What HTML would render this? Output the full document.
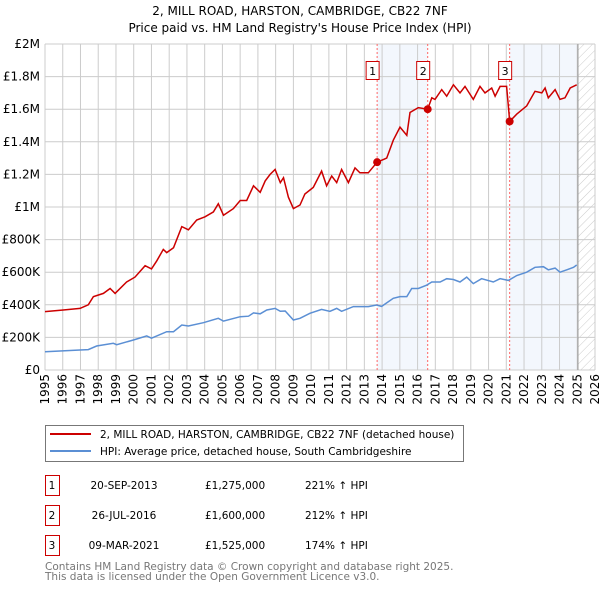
<!DOCTYPE html>
<html><head><meta charset="utf-8"><style>
body{margin:0;background:#fff;}
svg{display:block;font-family:"DejaVu Sans","Liberation Sans",sans-serif;}
</style></head><body>
<svg id="chart" width="600" height="590" viewBox="0 0 600 590">
<defs><pattern id="hatch" width="6" height="6" patternUnits="userSpaceOnUse" patternTransform="rotate(45)"><line x1="0" y1="0" x2="0" y2="6" stroke="#ccc" stroke-width="1"/></pattern></defs>
<text x="300" y="15" text-anchor="middle" font-size="12">2, MILL ROAD, HARSTON, CAMBRIDGE, CB22 7NF</text>
<text x="300" y="32" text-anchor="middle" font-size="12">Price paid vs. HM Land Registry's House Price Index (HPI)</text>
<g id="plot"></g>
<g>
<rect x="45.5" y="425.5" width="418" height="36" fill="#fff" stroke="#777"/>
<line x1="50" y1="434" x2="91" y2="434" stroke="#cc0000" stroke-width="2"/>
<text x="100" y="438" font-size="10.5">2, MILL ROAD, HARSTON, CAMBRIDGE, CB22 7NF (detached house)</text>
<line x1="50" y1="451" x2="91" y2="451" stroke="#5b8fd4" stroke-width="2"/>
<text x="100" y="455" font-size="10.5">HPI: Average price, detached house, South Cambridgeshire</text>
</g>
<g id="table" font-size="10.5"></g>
<text x="45" y="570" font-size="10.5" fill="#777">Contains HM Land Registry data © Crown copyright and database right 2025.</text>
<text x="45" y="580" font-size="10.5" fill="#777">This data is licensed under the Open Government Licence v3.0.</text>
</svg>
<script>
const redYears=[1995.0,1996.03,1996.97,1997.44,1997.73,1998.29,1998.67,1998.95,1999.6,2000.07,2000.64,2001.0,2001.3,2001.67,2001.86,2002.24,2002.71,2003.08,2003.55,2004.02,2004.49,2004.77,2005.06,2005.62,2006.0,2006.37,2006.75,2007.13,2007.41,2007.69,2007.97,2008.26,2008.44,2008.72,2009.0,2009.37,2009.65,2010.12,2010.59,2010.87,2011.16,2011.44,2011.72,2012.1,2012.47,2012.75,2013.22,2013.72,2014.26,2014.63,2015.01,2015.39,2015.57,2016.04,2016.57,2016.8,2016.98,2017.36,2017.64,2018.02,2018.39,2018.67,2019.14,2019.52,2019.8,2020.18,2020.37,2020.65,2021.02,2021.19,2021.59,2022.15,2022.62,2023.0,2023.19,2023.37,2023.75,2024.03,2024.31,2024.6,2024.97];
const redValues=[0.358,0.368,0.378,0.40,0.45,0.47,0.50,0.47,0.54,0.57,0.64,0.62,0.67,0.74,0.72,0.75,0.88,0.86,0.92,0.94,0.97,1.02,0.95,0.99,1.04,1.04,1.13,1.09,1.16,1.20,1.23,1.15,1.18,1.06,0.99,1.012,1.08,1.12,1.22,1.13,1.19,1.15,1.23,1.15,1.24,1.21,1.21,1.275,1.30,1.41,1.49,1.44,1.58,1.61,1.60,1.67,1.66,1.72,1.68,1.75,1.70,1.74,1.66,1.74,1.70,1.73,1.68,1.74,1.74,1.525,1.57,1.62,1.71,1.70,1.73,1.67,1.72,1.66,1.67,1.73,1.75];
const hpiYears=[1995,1996.97,1997.44,1997.91,1998.85,1999.04,1999.98,2000.73,2001.0,2001.86,2002.24,2002.71,2003.08,2003.93,2004.77,2005.06,2006.0,2006.47,2006.75,2007.13,2007.5,2007.97,2008.26,2008.54,2009.0,2009.37,2009.93,2010.59,2011.06,2011.44,2011.72,2012.38,2013.22,2013.69,2013.97,2014.63,2015.01,2015.39,2015.67,2016.04,2016.51,2016.8,2017.27,2017.64,2018.02,2018.39,2018.77,2019.14,2019.61,2020.27,2020.65,2021.12,2021.59,2022.15,2022.62,2023.09,2023.37,2023.75,2024.03,2024.41,2024.79,2024.97];
const hpiValues=[0.112,0.123,0.125,0.147,0.164,0.155,0.184,0.209,0.195,0.235,0.235,0.276,0.27,0.29,0.317,0.30,0.327,0.33,0.35,0.345,0.368,0.378,0.36,0.362,0.307,0.317,0.348,0.372,0.36,0.378,0.36,0.389,0.389,0.399,0.39,0.44,0.45,0.45,0.50,0.50,0.52,0.54,0.54,0.56,0.555,0.54,0.57,0.53,0.56,0.54,0.56,0.55,0.58,0.60,0.63,0.634,0.615,0.625,0.60,0.615,0.63,0.644];
const saleLabels=["1","2","3"];
const saleYears=[2013.72,2016.57,2021.19];
const saleValues=[1.275,1.60,1.525];
const saleDates=["20-SEP-2013","26-JUL-2016","09-MAR-2021"];
const salePrices=["£1,275,000","£1,600,000","£1,525,000"];
const salePcts=["221% ↑ HPI","212% ↑ HPI","174% ↑ HPI"];
const yTicks=[0,0.2,0.4,0.6,0.8,1,1.2,1.4,1.6,1.8,2];
const yTickLabels=["£0","£200K","£400K","£600K","£800K","£1M","£1.2M","£1.4M","£1.6M","£1.8M","£2M"];
const xTicks=[1995,1996,1997,1998,1999,2000,2001,2002,2003,2004,2005,2006,2007,2008,2009,2010,2011,2012,2013,2014,2015,2016,2017,2018,2019,2020,2021,2022,2023,2024,2025,2026];
const dataEnd=2025.04;

const NS="http://www.w3.org/2000/svg";
const X0=45,X1=595,Y0=370,Y1=44;
const xs=y=>X0+(y-1995)/(2026-1995)*(X1-X0);
const ys=v=>Y0-v/2*(Y0-Y1);
const plot=document.getElementById('plot');
function mk(tag,attrs,parent){const e=document.createElementNS(NS,tag);for(const k in attrs)e.setAttribute(k,attrs[k]);(parent||plot).appendChild(e);return e;}

let sh=mk('rect',{x:xs(saleYears[0]),y:Y1,width:xs(saleYears[1])-xs(saleYears[0]),height:Y0-Y1,fill:'#eef3fc',opacity:0.7});


sh=mk('rect',{x:xs(saleYears[2]),y:Y1,width:xs(dataEnd)-xs(saleYears[2]),height:Y0-Y1,fill:'#eef3fc',opacity:0.7});


let ht=mk('rect',{x:xs(dataEnd),y:Y1,width:X1-xs(dataEnd),height:Y0-Y1,fill:'url(#hatch)'});



yTicks.forEach((t,i)=>{
  const g=mk('line',{x1:X0,x2:X1,y1:ys(t),y2:ys(t),stroke:'#ccc','stroke-width':1});
  
  
  const l=mk('text',{x:40,y:ys(t)+4,'text-anchor':'end','font-size':12});
  l.textContent=yTickLabels[i];
  
  
});
xTicks.forEach(t=>{
  const g=mk('line',{x1:xs(t),x2:xs(t),y1:Y1,y2:Y0,stroke:'#ccc','stroke-width':1});
  
  
  const l=mk('text',{x:0,y:0,'text-anchor':'end','font-size':12,transform:`translate(${xs(t)+4},${Y0+4}) rotate(-90)`});
  l.textContent=t;
  
  
});
const vl=mk('line',{x1:xs(dataEnd),x2:xs(dataEnd),y1:Y1,y2:Y0,stroke:'#999','stroke-width':1});



saleYears.forEach((y,i)=>{
  const l=mk('line',{x1:xs(y),x2:xs(y),y1:Y1,y2:Y0,stroke:'#ff6666','stroke-width':1,'stroke-dasharray':'2,2'});
  
  
});

function pathOf(xa,va){return xa.map((y,i)=>(i?'L':'M')+xs(y).toFixed(1)+','+ys(va[i]).toFixed(1)).join('');}
const hp=mk('path',{d:pathOf(hpiYears,hpiValues),fill:'none',stroke:'#5b8fd4','stroke-width':1.5});


const rp=mk('path',{d:pathOf(redYears,redValues),fill:'none',stroke:'#cc0000','stroke-width':1.5});



saleYears.forEach((y,i)=>{
  const c=mk('circle',{cx:xs(y),cy:ys(saleValues[i]),r:4,fill:'#cc0000'});
  
  
  const b=mk('rect',{x:xs(y)-11,y:61.5,width:13,height:18,fill:'#fff',stroke:'#cc0000'});
  
  
  const t=mk('text',{x:xs(y)-4.5,y:75,'text-anchor':'middle','font-size':11});
  t.textContent=saleLabels[i];
  
  
});

const tb=document.getElementById('table');
saleLabels.forEach((s,i)=>{
  const yb=475+i*30;
  const r=mk('rect',{x:45.5,y:yb+0.5,width:14,height:20,fill:'#fff',stroke:'#cc0000'},tb);
  
  
  const cells=[[52,'middle',s],[124,'middle',saleDates[i]],[205,'start',salePrices[i]],[305,'start',salePcts[i]]];
  cells.forEach((c,j)=>{
    const t=mk('text',{x:c[0],y:yb+14,'text-anchor':c[1]},tb);
    t.textContent=c[2];
    
    
  });
});
</script>
</body></html>
